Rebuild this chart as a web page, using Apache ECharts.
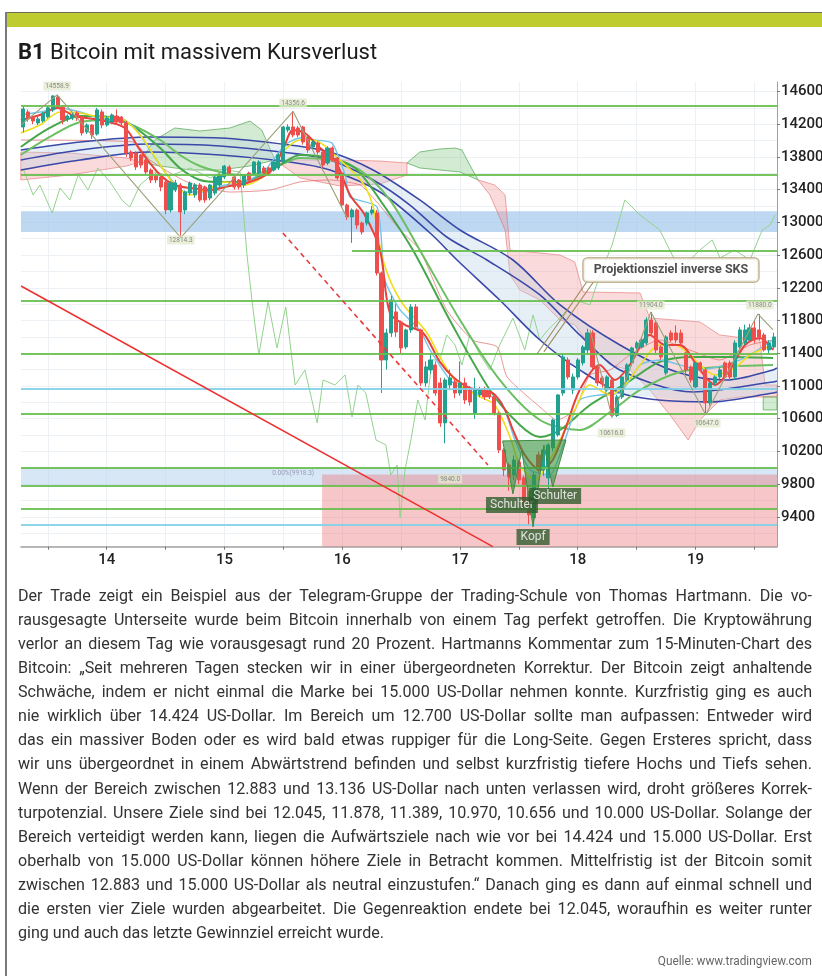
<!DOCTYPE html>
<html>
<head>
<meta charset="utf-8">
<title>B1 Bitcoin mit massivem Kursverlust</title>
<script src="https://cdn.jsdelivr.net/npm/echarts@6/dist/echarts.min.js"></script>
<style>
    html, body { margin: 0; padding: 0; background: #fff; }
    body { width: 822px; height: 976px; position: relative; overflow: hidden; font-family: Roboto, "Noto Sans", sans-serif; }
    #barTop { position: absolute; left: 6px; top: 12px; width: 816px; height: 14px; background: #bfcc2f; border-top: 1px solid #6d6d55; }
    #lineLeft { position: absolute; left: 5px; top: 12px; width: 2px; height: 964px; background: #7a7a7a; }
    #main { position: absolute; left: 0; top: 0; width: 822px; height: 976px; }
    #text { position: absolute; left: 18px; top: 583px; width: 794px; color: #333; font-size: 17px; line-height: 24.07px; }
    #text .ln { white-space: nowrap; transform-origin: 0 0; height: 24.07px; }
    #source { position: absolute; right: 10px; top: 953px; font-size: 12.5px; color: #666; white-space: nowrap; transform-origin: 100% 0; }
</style>
</head>
<body>
<div id="barTop"></div>
<div id="lineLeft"></div>
<div id="main"></div>
<div id="text"></div>
<div id="source">Quelle: www.tradingview.com</div>
<script type="text/javascript">
    // x axis runs in hours counted from the start of day 14
    var firstHour = -17;
    var X0 = -17.46, X1 = 136.61, Y0 = 9035, Y1 = 14716;

    var dayHours = [0, 24, 48, 72, 96, 120];
    var gridHours = [-12, 0, 12, 24, 36, 48, 60, 72, 84, 96, 108, 120, 132];
    var priceLabels = [9400, 9800, 10200, 10600, 11000, 11400, 11800, 12200, 12600, 13000, 13400, 13800, 14200, 14600];
    var gridPrices = [9200, 9400, 9600, 9800, 10000, 10200, 10400, 10600, 10800, 11000, 11200, 11400, 11600, 11800,
        12000, 12200, 12400, 12600, 12800, 13000, 13200, 13400, 13600, 13800, 14000, 14200, 14400, 14600];

    // hourly candles: open, close, low, high
    var candles = [
        [14166, 14386, 14100, 14420], [14350, 14264, 14230, 14380], [14276, 14240, 14200, 14300], [14215, 14264, 14190, 14290],
        [14240, 14337, 14220, 14350], [14290, 14400, 14270, 14420], [14374, 14545, 14350, 14555], [14533, 14410, 14390, 14558.9],
        [14410, 14252, 14200, 14430], [14264, 14300, 14230, 14320], [14276, 14313, 14250, 14340], [14337, 14276, 14240, 14360],
        [14288, 14093, 14060, 14300], [14105, 14190, 14080, 14210], [14190, 14068, 14020, 14200], [14080, 14374, 14060, 14400],
        [14350, 14190, 14150, 14380], [14190, 14276, 14170, 14300], [14227, 14313, 14200, 14330], [14300, 14227, 14200, 14380],
        [14288, 14215, 14180, 14300], [14215, 13848, 13800, 14240], [13860, 13787, 13750, 13880], [13848, 13677, 13640, 13870],
        [13824, 13701, 13660, 13840], [13763, 13616, 13580, 13790], [13640, 13518, 13480, 13660], [13579, 13518, 13480, 13600],
        [13555, 13432, 13380, 13570], [13494, 13151, 13100, 13510], [13151, 13482, 13120, 13500], [13396, 13482, 13370, 13520],
        [13457, 13127, 12814.3, 13480], [13151, 13371, 13100, 13390], [13359, 13482, 13330, 13500], [13335, 13457, 13300, 13480],
        [13457, 13274, 13250, 13480], [13432, 13274, 13240, 13450], [13298, 13457, 13270, 13470], [13359, 13555, 13330, 13570],
        [13457, 13579, 13420, 13600], [13555, 13689, 13530, 13700], [13677, 13603, 13580, 13700], [13555, 13432, 13400, 13570],
        [13518, 13432, 13400, 13530], [13457, 13579, 13420, 13590], [13603, 13518, 13490, 13620], [13603, 13738, 13580, 13750],
        [13603, 13738, 13580, 13760], [13665, 13603, 13580, 13690], [13665, 13603, 13570, 13680], [13640, 13738, 13620, 13760],
        [13665, 13824, 13640, 13850], [13738, 14166, 13720, 14180], [14129, 14166, 14100, 14200], [14166, 14068, 14040, 14356.6],
        [14154, 14068, 14040, 14180], [14166, 13983, 13950, 14180], [14044, 13885, 13850, 14060], [13922, 13983, 13900, 14000],
        [13970, 13860, 13830, 13990], [13860, 13701, 13670, 13870], [13726, 13909, 13700, 13930], [13909, 13763, 13740, 13930],
        [13787, 13543, 13520, 13800], [13604, 13212, 13180, 13620], [13212, 13066, 13030, 13230], [13066, 13151, 12750, 13170],
        [13151, 12968, 12920, 13170], [12992, 12882, 12850, 13010], [12992, 13115, 12960, 13130], [13115, 13151, 13090, 13200],
        [13115, 12381, 12350, 13150], [12381, 11318, 10914, 12400], [11318, 11648, 11200, 11700], [11648, 12051, 11600, 12100],
        [11905, 11660, 11600, 12000], [11783, 11465, 11400, 11800], [11477, 11685, 11450, 11700], [11685, 11966, 11650, 12000],
        [11966, 11722, 11700, 12000], [11685, 11037, 11000, 11700], [11037, 11233, 10990, 11300], [11196, 11318, 11150, 11400],
        [11257, 10914, 10880, 11300], [11037, 10548, 10500, 11100], [10548, 11073, 10300, 11100], [11012, 11098, 10950, 11200],
        [11049, 10914, 10850, 11100], [10914, 11037, 10880, 11300], [11037, 10829, 10780, 11100], [10951, 10805, 10760, 11000],
        [10670, 10951, 10600, 11100], [10890, 10951, 10860, 10990], [10951, 10866, 10830, 10990], [10927, 10866, 10840, 10960],
        [10866, 10670, 10640, 10890], [10670, 10218, 10180, 10690], [10218, 9973, 9900, 10240], [10034, 9888, 9720, 10060],
        [9912, 10096, 9850, 10150], [10071, 9851, 9800, 10100], [9876, 9546, 9500, 9900], [9705, 9424, 9290, 9720],
        [9387, 9912, 9290, 9950], [10157, 9973, 9940, 10200], [9973, 10218, 9900, 10250], [9876, 10279, 9720, 10300],
        [10243, 10584, 10200, 10600], [10401, 10890, 10380, 10900], [10914, 11355, 10880, 11400], [11318, 11110, 11080, 11350],
        [10951, 11110, 10900, 11150], [11110, 11318, 11080, 11340], [11282, 11477, 11250, 11500], [11440, 11648, 11400, 11700],
        [11648, 11233, 11200, 11680], [11233, 11037, 11000, 11260], [11098, 11025, 10980, 11120], [10951, 11110, 10930, 11130],
        [11073, 10640, 10616, 11100], [10640, 10866, 10620, 10890], [10866, 11110, 10840, 11130], [11073, 11257, 11050, 11280],
        [11282, 11465, 11250, 11480], [11465, 11526, 11440, 11550], [11477, 11562, 11460, 11600], [11526, 11807, 11500, 11840],
        [11807, 11648, 11620, 11904], [11770, 11440, 11400, 11800], [11477, 11355, 11320, 11500], [11159, 11599, 11130, 11620],
        [11648, 11562, 11540, 11680], [11648, 11562, 11520, 11740], [11648, 11526, 11500, 11690], [11404, 11196, 11150, 11420],
        [11233, 11073, 11040, 11250], [10988, 11282, 10960, 11300], [11282, 11196, 11170, 11300], [11196, 10792, 10647, 11220],
        [10792, 11037, 10760, 11060], [11037, 11110, 11010, 11130], [11110, 11196, 11080, 11230], [11282, 11110, 11090, 11300],
        [11282, 11110, 11070, 11310], [11110, 11526, 11080, 11560], [11477, 11685, 11450, 11720], [11526, 11685, 11500, 11750],
        [11562, 11710, 11540, 11760], [11710, 11562, 11520, 11800], [11685, 11599, 11560, 11880], [11624, 11440, 11420, 11650],
        [11440, 11526, 11400, 11560], [11477, 11599, 11450, 11650]
    ];

    // indicator lines: [hour, price]
    var blueUpper = [[-17.5, 13885], [-5.4, 13983], [8.8, 14044], [23.1, 14032], [37.3, 13946], [45.5, 13860], [54.3, 13640],
        [63.8, 13274], [72.0, 12907], [82.8, 12540], [92.4, 11991], [104.6, 11501], [116.2, 11171], [126.4, 11073], [135.8, 11196], [136.6, 11221]];
    var blueMid = [[-17.5, 13763], [-5.4, 13885], [8.8, 13958], [23.1, 13934], [37.3, 13848], [45.5, 13763], [54.3, 13518],
        [61.8, 13212], [69.3, 12821], [77.5, 12540], [88.3, 12113], [96.4, 11624], [104.6, 11196], [119.5, 10927], [135.8, 11049], [136.6, 11061]];
    var blueLower = [[-17.5, 13640], [-5.4, 13763], [8.8, 13860], [23.1, 13824], [37.3, 13738], [45.5, 13640], [55.7, 13371],
        [65.9, 12870], [71.4, 12540], [80.1, 12051], [88.3, 11562], [96.4, 11196], [106.0, 10890], [122.9, 10805], [135.8, 10914], [136.6, 10927]];
    var greenFast = [[-17.5, 13921], [-11.6, 14154], [-5.4, 14300], [0.7, 14288], [4.7, 14203], [10.9, 13909], [14.9, 13665],
        [19.0, 13518], [23.1, 13494], [27.2, 13494], [31.2, 13567], [35.3, 13701], [39.4, 13824], [45.5, 13787], [50.6, 13665],
        [55.7, 13274], [62.4, 12662], [69.9, 11807], [78.1, 10951], [84.2, 10523], [88.3, 10376], [92.4, 10462], [98.5, 10768],
        [106.0, 11037], [112.7, 11294], [119.5, 11355], [127.0, 11355], [135.8, 11343]];
    var greenSlow = [[-17.5, 13824], [-11.6, 14044], [-5.4, 14227], [0.7, 14252], [4.7, 14203], [10.9, 14007], [14.9, 13824],
        [19.0, 13689], [23.1, 13616], [27.2, 13579], [31.2, 13604], [35.3, 13701], [39.4, 13787], [45.5, 13763], [51.6, 13640],
        [57.7, 13274], [63.8, 12662], [72.0, 11807], [80.1, 11073], [88.3, 10584], [96.4, 10462], [102.6, 10682], [108.7, 10951],
        [116.8, 11171], [125.0, 11233], [135.8, 11257]];
    var redLine = [[-17.5, 14252], [-13.6, 14313], [-10.1, 14398], [-6.5, 14300], [-1.4, 14252], [3.7, 14154], [6.8, 13885],
        [10.9, 13579], [13.9, 13457], [17.0, 13420], [21.1, 13396], [25.1, 13445], [29.2, 13494], [33.3, 13616], [35.9, 13885],
        [38.0, 14129], [40.4, 14093], [43.5, 13909], [46.5, 13763], [49.6, 13335], [52.6, 13090], [55.7, 12662], [57.7, 11893],
        [60.8, 11746], [64.5, 11648], [67.9, 11294], [70.6, 11110], [74.0, 10976], [78.7, 10914], [81.2, 10707], [82.8, 10462],
        [85.2, 10157], [88.3, 9973], [90.9, 10096], [93.4, 10462], [96.4, 10951], [100.5, 11257], [103.6, 11073], [106.6, 11257],
        [110.7, 11624], [113.8, 11501], [116.8, 11501], [120.9, 11196], [124.0, 11012], [127.0, 11196], [130.1, 11501],
        [133.1, 11587], [135.8, 11440]];
    var yellowLine = [[-17.5, 14093], [-13.6, 14190], [-9.5, 14349], [-5.4, 14337], [-1.4, 14288], [2.7, 14276], [6.8, 14068],
        [10.9, 13701], [13.9, 13457], [17.0, 13335], [21.1, 13420], [24.1, 13494], [28.2, 13457], [32.3, 13579], [36.3, 13885],
        [39.4, 14007], [42.0, 14007], [47.5, 13763], [52.2, 13481], [54.3, 13188], [56.3, 12540], [59.8, 12051], [65.3, 11648],
        [67.9, 11355], [71.4, 11037], [76.1, 10866], [79.1, 10768], [82.2, 10376], [84.2, 10034], [87.3, 9851], [90.3, 10096],
        [92.4, 10340], [95.4, 10707], [98.5, 11012], [102.6, 10890], [105.6, 11012], [108.7, 11257], [112.7, 11501], [115.8, 11501],
        [118.9, 11379], [120.9, 11257], [124.0, 11134], [128.0, 11221], [131.1, 11379], [135.8, 11501]];
    var lightBlueLine = [[-17.5, 14313], [-13.6, 14349], [-9.5, 14398], [-5.4, 14349], [-1.4, 14276], [2.7, 14276], [5.8, 14154],
        [8.8, 13885], [11.9, 13616], [16.0, 13371], [20.0, 13371], [24.1, 13457], [28.2, 13494], [32.3, 13640], [36.3, 13946],
        [39.4, 14032], [42.4, 14007], [45.9, 13970], [48.6, 13579], [49.6, 13310], [55.1, 13188], [56.7, 12296], [59.8, 11929],
        [63.8, 11685], [65.9, 11440], [70.0, 11073], [73.0, 10951], [80.1, 10829], [83.2, 10340], [86.3, 9973], [90.3, 9912],
        [93.4, 10340], [96.4, 10829], [100.5, 10890], [104.6, 10914], [108.7, 11257], [112.7, 11318], [120.9, 11196],
        [129.1, 11318], [135.8, 11562]];
    var kijunLine = [[-17.5, 14007], [5.4, 13983], [8.8, 13763], [16.4, 13494], [25.1, 13371], [33.3, 13396], [39.4, 13494],
        [45.5, 13518], [51.6, 13457], [54.7, 13274], [59.8, 12907], [63.8, 12662], [69.3, 11929], [74.6, 11562], [79.6, 11477],
        [81.6, 11110], [88.3, 10743], [91.8, 10584], [95.4, 10707], [98.5, 11134], [102.6, 11196], [106.6, 11379], [112.7, 11562],
        [118.8, 11440], [124.9, 11318], [131.1, 11501], [135.8, 11562]];
    var laggingLine = [[-16.9, 13640], [-15.0, 13335], [-13.6, 13457], [-11.1, 13115], [-9.5, 13420], [-7.5, 13274], [-5.8, 13579],
        [-3.8, 13396], [-1.8, 13665], [0.7, 13494], [3.1, 13274], [4.7, 13188], [6.8, 13457], [9.8, 13616], [12.9, 13567],
        [17.0, 13665], [21.1, 13543], [24.1, 13640], [27.2, 13616], [28.6, 12601], [29.6, 12051], [31.0, 11379], [32.9, 12027],
        [34.7, 11465], [36.5, 11966], [38.4, 11012], [40.4, 11196], [42.9, 10548], [44.1, 11073], [46.5, 11012], [48.6, 11134],
        [50.0, 10621], [51.2, 11012], [52.8, 10914], [54.9, 10340], [56.9, 10279], [57.9, 9912], [59.2, 10034], [59.8, 9387],
        [60.8, 9973], [62.0, 10340], [63.4, 10829], [64.9, 10584], [66.3, 11318], [67.9, 11318], [69.3, 11624], [71.0, 11501],
        [72.4, 11257], [74.0, 11624], [76.1, 11379], [78.1, 11196], [80.1, 11501], [82.8, 11831], [85.2, 11440], [86.9, 11868],
        [88.3, 11562], [89.9, 11685], [92.4, 11831], [95.4, 12051], [98.5, 11991], [100.5, 12357], [103.0, 12723], [105.6, 13274],
        [108.7, 13090], [112.7, 12907], [116.8, 12418], [120.9, 12662], [123.4, 12785], [125.0, 12565], [128.0, 12662],
        [131.1, 12540], [133.6, 12907], [135.2, 12968], [136.2, 13090]];

    // cloud areas
    var cloudRed = [
        [[-17.5, 13860], [-7.5, 13848], [4.1, 13787], [6.8, 13738], [4.1, 13689], [-7.5, 13579], [-17.5, 13518]],
        [[34.3, 13763], [39.4, 13763], [47.5, 13763], [55.7, 13750], [61.2, 13726], [61.2, 13579], [55.7, 13469], [47.5, 13445], [39.4, 13543]],
        [[75.7, 13518], [79.1, 13457], [81.2, 13335], [82.2, 12662], [92.4, 12601], [95.4, 12516], [97.1, 12149], [108.7, 12137],
            [110.7, 11831], [120.9, 11783], [124.9, 11624], [133.1, 11562], [134.2, 11012], [136.6, 11012], [136.6, 10866],
            [133.1, 10866], [129.1, 10866], [125.0, 10829], [120.9, 10584], [118.5, 10340], [114.8, 10646], [110.7, 10951],
            [106.6, 11196], [102.6, 11257], [98.5, 11501], [95.4, 11746], [92.4, 11807], [88.3, 12051], [84.2, 12173],
            [82.2, 12357], [81.2, 12907], [78.1, 13335]]
    ];
    var cloudGreen = [
        [[6.8, 13738], [9.8, 14007], [13.9, 14154], [19.0, 14117], [25.1, 14154], [29.2, 14239], [31.6, 14129], [34.3, 13763],
            [29.2, 13689], [23.1, 13640], [17.0, 13640], [10.9, 13689]],
        [[61.2, 13726], [63.8, 13860], [67.9, 13897], [71.0, 13909], [72.4, 13885], [74.0, 13701], [75.7, 13518], [72.0, 13616],
            [67.9, 13640], [63.8, 13665]],
        [[133.8, 10866], [136.6, 10866], [136.6, 10707], [133.8, 10707]]
    ];
    var headShoulders = [[80.7, 10328], [82.8, 9680], [84.6, 10218], [86.9, 9276], [89.1, 10279], [90.9, 9765], [93.6, 10340]];

    // drawn levels
    var greenLevels = [14424, 13580, 12045, 11389, 10656, 10000, 9780, 9496];
    var blueLevels = [10970, 9305];
    var rayLevel = [50.0, 12650];
    var zoneUpper = [13136, 12883];
    var zoneLower = [10000, 9780];
    var zoneRed = [[43.9, 9918.3], [X1, Y0]];
    var trendRed = [[-17.46, 12222], [78.7, 9035]];
    var trendDashed = [[35.9, 12870], [77.7, 10034]];
    var swingLeft = [[-17.5, 14190], [-10.1, 14558.9], [15.1, 12814.3], [38.0, 14356.6], [49.0, 13053]];
    var swingRight = [[98.5, 11685], [103.0, 10616], [110.9, 11904], [122.1, 10647], [132.7, 11880], [135.8, 11685]];
    var pointerA = [[87.7, 11391], [98.1, 12296]];
    var pointerB = [[89.1, 11416], [99.5, 12296]];

    // labels: [hour, price, text]
    var priceTags = [[-10.1, 14667, '14558.9'], [15.1, 12785, '12814.3'], [38.0, 14459, '14356.6'], [110.9, 11991, '11904.0'],
        [102.9, 10425, '10616.0'], [122.3, 10548, '10647.0'], [133.1, 11991, '11880.0'], [70.0, 9863, '9840.0']];
    var fibTag = [38.0, 9930, '0.00%(9918.3)'];
    var patternTags = [[82.6, 9546, 'Schulter'], [91.4, 9656, 'Schulter'], [86.9, 9154, 'Kopf']];
    var noteTag = [115.0, 12418, 'Projektionsziel inverse SKS'];

    function lineSeries(data, color, width, z, smooth, extra) {
        var s = {
            type: 'line', data: data, z: z, silent: true, symbol: 'none', showSymbol: false,
            smooth: smooth, lineStyle: { color: color, width: width }
        };
        if (extra) Object.assign(s.lineStyle, extra);
        return s;
    }

    function polySeries(polys, fill, stroke, z) {
        return {
            type: 'custom', z: z, silent: true,
            data: polys.map(function (p) { return p[0]; }),
            renderItem: function (params, api) {
                var pts = polys[params.dataIndex].map(function (q) { return api.coord(q); });
                return { type: 'polygon', shape: { points: pts }, style: { fill: fill, stroke: stroke, lineWidth: 1 } };
            }
        };
    }

    function tagSeries(items, label, z) {
        return {
            type: 'scatter', z: z, silent: true, symbol: 'circle', symbolSize: 1,
            itemStyle: { color: 'rgba(0,0,0,0)' },
            data: items,
            label: Object.assign({ show: true, position: 'inside', formatter: '{b}', fontFamily: 'Roboto' }, label)
        };
    }

    var blueBand = blueUpper.concat(blueLower.slice().reverse());
    var candleData = candles.map(function (c, i) { return [firstHour + i].concat(c); });
    var toItem = function (t) { return { name: t[2], value: [t[0], t[1]] }; };

    var chart = echarts.init(document.getElementById('main'));
    chart.setOption({
        animation: false,
        backgroundColor: 'transparent',
        title: {
            text: '{b|B1} Bitcoin mit massivem Kursverlust',
            left: 18, top: 42, padding: 0,
            textStyle: {
                fontFamily: 'Roboto', fontSize: 22, fontWeight: 'normal', color: '#1b1b1b',
                rich: { b: { fontFamily: 'Roboto', fontSize: 22, fontWeight: 'bold', color: '#1b1b1b' } }
            }
        },
        grid: { left: 21, right: 45, top: 82, bottom: 429.3, containLabel: false, outerBoundsMode: 'none' },
        xAxis: {
            type: 'value', min: X0, max: X1,
            axisLine: { show: true, onZero: false, lineStyle: { color: '#a0a0a0', width: 1.5 } },
            axisTick: { show: true, customValues: gridHours, length: 3, lineStyle: { color: '#777' } },
            axisLabel: {
                customValues: dayHours, margin: 6, fontFamily: 'Roboto', fontSize: 15, fontWeight: 500, color: '#222',
                formatter: function (v) { return String(14 + v / 24); }
            },
            splitLine: { show: false }
        },
        yAxis: {
            type: 'value', position: 'right', min: Y0, max: Y1,
            axisLine: { show: true, onZero: false, lineStyle: { color: '#a0a0a0', width: 1 } },
            axisTick: { show: true, customValues: priceLabels, length: 3, lineStyle: { color: '#777' } },
            axisLabel: {
                customValues: priceLabels, margin: 4, fontFamily: 'Roboto', fontSize: 15, fontWeight: 500, color: '#222',
                formatter: function (v) { return String(v); }
            },
            splitLine: { show: false }
        },
        series: [
            {
                // faint grid
                type: 'line', data: [], z: 0, silent: true,
                markLine: {
                    silent: true, symbol: 'none', z: 0, label: { show: false },
                    lineStyle: { color: '#edf1f6', width: 1, type: 'solid' },
                    data: gridHours.map(function (h) { return { xAxis: h }; })
                        .concat(gridPrices.map(function (p) { return { yAxis: p }; }))
                }
            },
            {
                // zones
                type: 'line', data: [], z: 1, silent: true,
                markArea: {
                    silent: true, z: 1,
                    data: [
                        [{ xAxis: X0, yAxis: zoneUpper[0], itemStyle: { color: 'rgba(150,192,234,0.62)' } }, { xAxis: X1, yAxis: zoneUpper[1] }],
                        [{ xAxis: X0, yAxis: zoneLower[0], itemStyle: { color: 'rgba(176,208,238,0.5)' } }, { xAxis: X1, yAxis: zoneLower[1] }],
                        [{ xAxis: zoneRed[0][0], yAxis: zoneRed[0][1], itemStyle: { color: 'rgba(236,120,125,0.42)' } }, { xAxis: zoneRed[1][0], yAxis: zoneRed[1][1] }]
                    ]
                }
            },
            polySeries(cloudRed, 'rgba(240,140,140,0.32)', 'rgba(225,100,100,0.55)', 2),
            polySeries(cloudGreen, 'rgba(110,185,110,0.3)', 'rgba(80,165,80,0.7)', 2),
            polySeries([blueBand], 'rgba(185,208,228,0.35)', 'none', 2),
            lineSeries(laggingLine, '#93d28d', 1, 3, false),
            lineSeries(kijunLine, 'rgba(225,105,105,0.7)', 1, 3, 0.2),
            lineSeries(blueUpper, '#3a48a8', 1.6, 3, 0.3),
            lineSeries(blueMid, '#3a48a8', 1.6, 3, 0.3),
            lineSeries(blueLower, '#3a48a8', 1.6, 3, 0.3),
            lineSeries(greenSlow, '#6cbf62', 2, 3, 0.3),
            lineSeries(greenFast, '#44a849', 2, 3, 0.3),
            lineSeries(lightBlueLine, '#6fc4ea', 1.4, 3, 0.2),
            lineSeries(yellowLine, '#f0de1a', 1.6, 3, 0.3),
            lineSeries(redLine, '#e8413c', 2, 3, 0.3),
            {
                type: 'candlestick', z: 4, silent: true, barWidth: 3.6,
                encode: { x: 0, y: [1, 2, 3, 4] },
                data: candleData,
                itemStyle: { color: '#22a090', color0: '#ef4f4c', borderColor: '#22a090', borderColor0: '#ef4f4c', borderWidth: 1 }
            },
            {
                // horizontal levels
                type: 'line', data: [], z: 5, silent: true,
                markLine: {
                    silent: true, symbol: 'none', z: 5, label: { show: false },
                    data: greenLevels.map(function (v) { return { yAxis: v, lineStyle: { color: '#68bf4c', width: 2, type: 'solid', opacity: 0.9 } }; })
                        .concat(blueLevels.map(function (v) { return { yAxis: v, lineStyle: { color: '#7fd0e8', width: 2, type: 'solid', opacity: 0.9 } }; }))
                        .concat([[{ coord: rayLevel, lineStyle: { color: '#68bf4c', width: 2, type: 'solid', opacity: 0.9 } }, { coord: [X1, rayLevel[1]] }]])
                }
            },
            lineSeries(trendRed, '#ee3030', 1.5, 6, false),
            lineSeries(trendDashed, '#e83c3c', 1.6, 6, false, { type: [5, 4] }),
            lineSeries(swingLeft, '#9aa27a', 1.1, 6, false),
            lineSeries(swingRight, '#9aa27a', 1.1, 6, false),
            lineSeries(pointerA, '#a08a5c', 1.1, 6, false),
            lineSeries(pointerB, '#a08a5c', 1.1, 6, false),
            polySeries([headShoulders], 'rgba(50,145,60,0.6)', '#3f8a3f', 6),
            tagSeries(priceTags.map(toItem).concat([{ name: fibTag[2], value: [fibTag[0], fibTag[1]],
                label: { backgroundColor: 'rgba(0,0,0,0)', color: '#8a8aa8' } }]),
                { fontSize: 6.5, color: '#707070', backgroundColor: 'rgba(226,234,205,0.95)', padding: [1, 2], borderRadius: 1 }, 7),
            tagSeries(patternTags.map(toItem),
                { fontSize: 12, color: '#fff', backgroundColor: '#2f5d2f', padding: [2, 4] }, 8),
            tagSeries([toItem(noteTag)],
                { fontSize: 12.5, fontWeight: 'bold', color: '#222', backgroundColor: '#fff', borderColor: '#b3a47a',
                  borderWidth: 1.5, borderRadius: 4, padding: [5, 10] }, 8)
        ]
    });

    // text under the chart
    var paragraph = [
        'Der Trade zeigt ein Beispiel aus der Telegram-Gruppe der Trading-Schule von Thomas Hartmann. Die vo-',
        'rausgesagte Unterseite wurde beim Bitcoin innerhalb von einem Tag perfekt getroffen. Die Kryptowährung',
        'verlor an diesem Tag wie vorausgesagt rund 20 Prozent. Hartmanns Kommentar zum 15-Minuten-Chart des',
        'Bitcoin: „Seit mehreren Tagen stecken wir in einer übergeordneten Korrektur. Der Bitcoin zeigt anhaltende',
        'Schwäche, indem er nicht einmal die Marke bei 15.000 US-Dollar nehmen konnte. Kurzfristig ging es auch',
        'nie wirklich über 14.424 US-Dollar. Im Bereich um 12.700 US-Dollar sollte man aufpassen: Entweder wird',
        'das ein massiver Boden oder es wird bald etwas ruppiger für die Long-Seite. Gegen Ersteres spricht, dass',
        'wir uns übergeordnet in einem Abwärtstrend befinden und selbst kurzfristig tiefere Hochs und Tiefs sehen.',
        'Wenn der Bereich zwischen 12.883 und 13.136 US-Dollar nach unten verlassen wird, droht größeres Korrek-',
        'turpotenzial. Unsere Ziele sind bei 12.045, 11.878, 11.389, 10.970, 10.656 und 10.000 US-Dollar. Solange der',
        'Bereich verteidigt werden kann, liegen die Aufwärtsziele nach wie vor bei 14.424 und 15.000 US-Dollar. Erst',
        'oberhalb von 15.000 US-Dollar können höhere Ziele in Betracht kommen. Mittelfristig ist der Bitcoin somit',
        'zwischen 12.883 und 15.000 US-Dollar als neutral einzustufen.“ Danach ging es dann auf einmal schnell und',
        'die ersten vier Ziele wurden abgearbeitet. Die Gegenreaktion endete bei 12.045, woraufhin es weiter runter',
        'ging und auch das letzte Gewinnziel erreicht wurde.'
    ];
    var box = document.getElementById('text');
    var spans = paragraph.map(function (t) {
        var d = document.createElement('div');
        d.className = 'ln';
        var s = document.createElement('span');
        s.textContent = t;
        d.appendChild(s);
        box.appendChild(d);
        return s;
    });
    var widths = spans.map(function (s) { return s.getBoundingClientRect().width; });
    var k = 366 / widths[widths.length - 1];
    spans.forEach(function (s, i) {
        s.parentNode.style.transform = 'scaleX(' + k + ')';
        if (i < spans.length - 1) {
            var gaps = (paragraph[i].match(/ /g) || []).length;
            s.style.wordSpacing = ((794 / k - widths[i]) / gaps) + 'px';
        }
    });
    document.getElementById('source').style.transform = 'scaleX(' + k + ')';
</script>
</body>
</html>
